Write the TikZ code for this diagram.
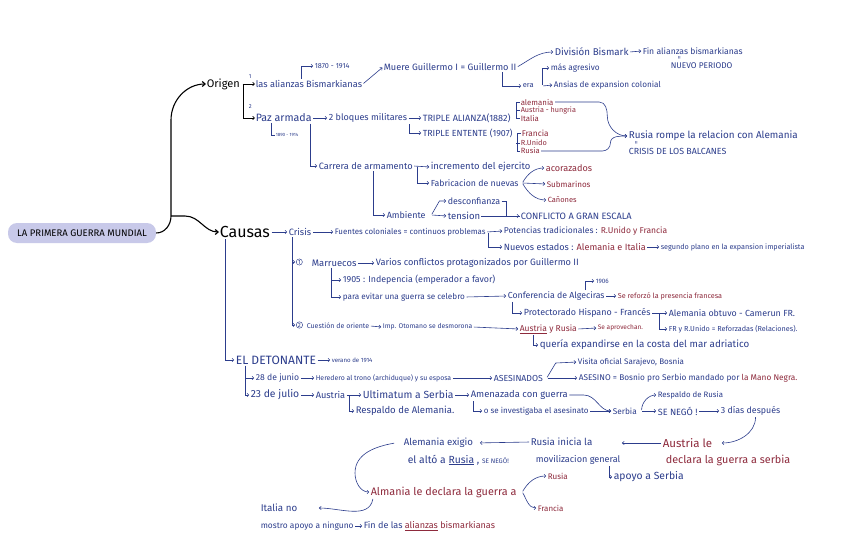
\documentclass[tikz,border=0pt]{standalone}
\usepackage{fontspec}
\setmainfont{Fira Sans}
\usetikzlibrary{arrows.meta}
\definecolor{Ink}{HTML}{2C3D8C}
\definecolor{Wine}{HTML}{8E2A3C}
\definecolor{Lav}{HTML}{C8C9E9}
\tikzset{
  fs/.style={font=\fontsize{\fpeval{1.15*#1}}{\fpeval{1.15*#1}}\selectfont},
  fsx/.style={font=\fontsize{#1}{#1}\selectfont},
  txt/.style={inner sep=0.6pt, anchor=west, text=Ink, fs=8},
  wine/.style={txt, text=Wine},
  big/.style={txt, text=black},
  wee/.style={txt, fs=5},
  eqv/.style={txt, anchor=center, rotate=90, fs=6},
  num/.style={circle, draw=Ink, text=Ink, line width=0.45pt, inner sep=0.5pt, anchor=west, fsx=6},
  root/.style={rounded corners=9pt, fill=Lav, text=black, minimum width=148pt, minimum height=20pt, fs=8.3},
  con/.style={draw=Ink, line width=0.6pt, -{Straight Barb[length=1.8pt,width=3.4pt]}, shorten >=0.8pt, shorten <=0.8pt},
  ln/.style={draw=Ink, line width=0.6pt},
  trunk/.style={draw=black, line width=1.1pt, -{Straight Barb[length=3pt,width=5pt]}},
  blk/.style={draw=black, line width=0.7pt, -{Straight Barb[length=1.8pt,width=3.4pt]}}
}
\begin{document}
\begin{tikzpicture}[x=1pt,y=1pt]
\useasboundingbox (0,0) rectangle (848,-559);
\fill[white] (0,0) rectangle (848,-559);
\node[root] (pmg) at (82,-233) {LA PRIMERA GUERRA MUNDIAL};
\coordinate (J) at (171,-216);
\node[big, fsx=11] (origen) at (206,-84) {Origen};
\node[big, fsx=16] (causas) at (219,-232) {Causas};
\draw[trunk] (pmg.east) to[out=0,in=-90] (J) -- ++(0,96) to[out=90,in=180] (origen.west);
\draw[trunk] (J) -- ++(14,0) to[out=0,in=180] (causas.west);
\node[wee] (n1) at (248,-77) {1};
\node[txt] (alianzas) at (255,-84) {las alianzas Bismarkianas};
\node[wee] (n2) at (248,-107) {2};
\node[txt, fs=9.25] (paz) at (255,-118) {Paz armada};
\draw[blk] ([xshift=2pt]origen.east) -- (alianzas.west);
\draw[blk] ([xshift=3pt]origen.east) |- (paz.west);
\node[txt, fs=6.3] (p1870) at (314,-66) {1870 - 1914};
\node[txt] (guillermo) at (383,-67) {Muere Guillermo I = Guillermo II};
\node[txt, fs=8.5] (division) at (554,-52) {División Bismark};
\node[txt, fs=7.5] (finali) at (642,-51) {Fin alianzas bismarkianas};
\node[eqv] (eq1) at (680,-58) {=};
\node[txt, fs=7.2] (nuevo) at (670,-66) {NUEVO PERIODO};
\node[txt, fs=6.5] (era) at (522,-86) {era};
\node[txt, fs=7.2] (agresivo) at (550,-68) {más agresivo};
\node[txt, fs=7.1] (ansias) at (553,-85) {Ansias de expansion colonial};
\draw[con] ([xshift=-8pt]alianzas.north) |- (p1870.west);
\draw[con] (alianzas.east) -- (guillermo.west);
\draw[con] (guillermo.east) to[out=30,in=180] (division.west);
\draw[con] (division.east) -- (finali.west);
\draw[con] ([xshift=-15pt]guillermo.south east) |- (era.west);
\draw[con] ([xshift=8pt]era.east) |- (agresivo.west);
\draw[con] ([xshift=8pt]era.east) -- (ansias.west);
\node[txt, fs=4] (p1890) at (275,-135) {1890 - 1914};
\node[txt, fs=7.85] (bloques) at (328,-118) {2 bloques militares};
\node[txt, fs=7.9] (alianza) at (422,-118) {TRIPLE ALIANZA(1882)};
\node[txt, fs=7.7] (entente) at (422,-133) {TRIPLE ENTENTE (1907)};
\node[wine, fs=6.8] (alemania1) at (520,-102) {alemania};
\node[wine, fs=6.3] (austria1) at (520,-110) {Austria - hungria};
\node[wine, fs=6.8] (italia1) at (520,-118) {Italia};
\node[wine, fs=7.2] (francia1) at (521,-133) {Francia};
\node[wine, fs=6.4] (runido1) at (520,-143) {R.Unido};
\node[wine, fs=6.6] (rusia1) at (520,-151) {Rusia};
\node[txt, fs=8.6] (rompe) at (628,-136) {Rusia rompe la relacion con Alemania};
\node[eqv] (eq2) at (637,-143) {=};
\node[txt, fs=7.7] (balcanes) at (628,-151) {CRISIS DE LOS BALCANES};
\draw[ln] ([xshift=16pt]paz.south west) |- (p1890.west);
\draw[con] (paz.east) -- (bloques.west);
\draw[con] (bloques.east) -- (alianza.west);
\draw[con] ([xshift=1pt]bloques.south east) |- (entente.west);
\draw[ln] (alemania1.west) -- ++(-4,0) |- (italia1.west);
\draw[ln] (austria1.west) -- ++(-4,0);
\draw[ln] (francia1.west) -- ++(-4,0) |- (rusia1.west);
\draw[ln] (runido1.west) -- ++(-4,0);
\draw[con] (alemania1.east) -- ++(45,0) to[out=0,in=90] ++(8,-14) to[out=-90,in=180] (rompe.west);
\draw[con] (rusia1.east) -- ++(62,0) to[out=0,in=-90] ++(8,8) to[out=90,in=180] (rompe.west);
\node[txt, fs=8] (carrera) at (318,-166) {Carrera de armamento};
\node[txt, fs=8.2] (incremento) at (430,-167) {incremento del ejercito};
\node[txt, fs=7.6] (fabricacion) at (430,-183) {Fabricacion de nuevas};
\node[wine, fs=7.9] (acorazados) at (545,-168) {acorazados};
\node[wine, fs=7] (submarinos) at (546,-184) {Submarinos};
\node[wine, fs=6.5] (canones) at (547,-200) {Cañones};
\node[txt, fs=7.8] (ambiente) at (386,-215) {Ambiente};
\node[txt, fs=7.7] (desconfianza) at (447,-201) {desconfianza};
\node[txt, fs=8.3] (tension) at (447,-216) {tension};
\node[txt, fs=8] (conflicto) at (520,-216) {CONFLICTO A GRAN ESCALA};
\draw[con] ([xshift=-2pt]paz.south east) |- (carrera.west);
\draw[con] (carrera.east) -- (incremento.west);
\draw[con] ([xshift=4pt]carrera.east) |- (fabricacion.west);
\draw[con] ([xshift=3pt]fabricacion.east) to[out=60,in=180] (acorazados.west);
\draw[con] ([xshift=3pt]fabricacion.east) -- (submarinos.west);
\draw[con] ([xshift=3pt]fabricacion.east) to[out=-60,in=180] (canones.west);
\draw[con] ([xshift=-40pt]carrera.south east) |- (ambiente.west);
\draw[con] ([xshift=5pt]ambiente.east) -- ++(8,14) -- (desconfianza.west);
\draw[con] ([xshift=5pt]ambiente.east) -- (tension.west);
\draw[con] (desconfianza.east) -- ++(5,0) |- (conflicto.west);
\draw[ln] (tension.east) -- (tension.east -| conflicto.west);
\node[txt, fs=8] (crisis) at (288,-232) {Crisis};
\node[txt, fs=6.9] (fuentes) at (334,-232) {Fuentes coloniales = continuos problemas};
\node[txt, fs=7.4] (potencias) at (503,-231) {Potencias tradicionales : \textcolor{Wine}{R.Unido y Francia}};
\node[txt, fs=7.9] (nuevos) at (503,-247) {Nuevos estados : \textcolor{Wine}{Alemania e Italia}};
\node[txt, fs=6.3] (segundo) at (660,-247) {segundo plano en la expansion imperialista};
\draw[con] (causas.east) -- (crisis.west);
\draw[con] (crisis.east) -- (fuentes.west);
\draw[con] (fuentes.east) -- (potencias.west);
\draw[con] ([xshift=2pt]fuentes.east) |- (nuevos.west);
\draw[con] (nuevos.east) -- (segundo.west);
\node[num] (c1) at (296,-262) {1};
\node[txt, fs=8.2] (marruecos) at (311,-263) {Marruecos};
\node[txt] (varios) at (375,-263) {Varios conflictos protagonizados por Guillermo II};
\node[txt, fs=7.7] (indep) at (342,-280) {1905 : Indepencia (emperador a favor)};
\node[txt, fs=7.1] (evitar) at (342,-297) {para evitar una guerra se celebro};
\node[txt, fs=7.6] (conferencia) at (507,-296) {Conferencia de Algeciras};
\node[txt, fs=5.5] (y1906) at (595,-281) {1906};
\node[wine, fs=6.3] (reforzo) at (617,-296) {Se reforzó la presencia francesa};
\node[txt, fs=7.75] (protectorado) at (523,-313) {Protectorado Hispano - Francés};
\node[txt, fs=7.7] (camerun) at (668,-313) {Alemania obtuvo - Camerun FR.};
\node[txt, fs=6.3] (fruk) at (668,-329) {FR y R.Unido = Reforzadas (Relaciones).};
\draw[con] ([xshift=4pt]crisis.south west) |- (c1.west);
\draw[con] (marruecos.east) -- (varios.west);
\draw[con] ([xshift=20pt]marruecos.south west) |- (indep.west);
\draw[con] ([xshift=20pt]marruecos.south west) |- (evitar.west);
\draw[con] (evitar.east) -- (conferencia.west);
\draw[con] ([xshift=-20pt]conferencia.north east) |- (y1906.west);
\draw[con] (conferencia.east) -- (reforzo.west);
\draw[con] ([xshift=5pt]conferencia.south west) |- (protectorado.west);
\draw[con] (protectorado.east) -- (camerun.west);
\draw[con] ([xshift=8pt]protectorado.east) |- (fruk.west);
\node[num] (c2) at (296,-325) {2};
\node[txt, fs=6.1] (cuestion) at (306,-326) {Cuestión de oriente};
\node[txt, fs=5.9] (otomano) at (382,-327) {Imp. Otomano se desmorona};
\node[wine, fs=7.4] (austriarusia) at (519,-329) {\underline{Austria} y Rusia};
\node[wine, fs=5.7] (aprovechan) at (597,-328) {Se aprovechan.};
\node[txt, fs=8.5] (queria) at (539,-345) {quería expandirse en la costa del mar adriatico};
\draw[con] ([xshift=4pt]crisis.south west) |- (c2.west);
\draw[con] (cuestion.east) -- (otomano.west);
\draw[con] (otomano.east) -- (austriarusia.west);
\draw[con] (austriarusia.east) -- (aprovechan.west);
\draw[con] ([xshift=14pt]austriarusia.south west) |- (queria.west);
\node[txt, fs=10.5] (detonante) at (235,-360) {EL DETONANTE};
\node[txt, fs=5.3] (verano) at (331,-360) {verano de 1914};
\node[txt, fs=7.5] (junio) at (255,-378) {28 de junio};
\node[txt, fs=6] (heredero) at (315,-378) {Heredero al trono (archiduque) y su esposa};
\node[txt, fs=7.6] (asesinados) at (493,-378) {ASESINADOS};
\node[txt, fs=7] (visita) at (577,-362) {Visita oficial Sarajevo, Bosnia};
\node[txt, fs=7.2] (asesino) at (578,-378) {ASESINO = Bosnio pro Serbio mandado por \textcolor{Wine}{la Mano Negra.}};
\draw[con] ([xshift=6pt]causas.south west) |- (detonante.west);
\draw[con] (detonante.east) -- (verano.west);
\draw[con] ([xshift=10pt]detonante.south west) |- (junio.west);
\draw[con] (junio.east) -- (heredero.west);
\draw[con] (heredero.east) -- (asesinados.west);
\draw[con] ([xshift=3pt]asesinados.east) -- ++(9,15) -- (visita.west);
\draw[con] ([xshift=3pt]asesinados.east) -- (asesino.west);
\node[txt, fs=9] (julio) at (250,-395) {23 de julio};
\node[txt] (austria2) at (315,-395) {Austria};
\node[txt, fs=9] (ultimatum) at (362,-395) {Ultimatum a Serbia};
\node[txt, fs=8.3] (respaldoA) at (355,-411) {Respaldo de Alemania.};
\node[txt, fs=8.2] (amenazada) at (470,-395) {Amenazada con guerra};
\node[txt, fs=7] (investigaba) at (483,-411) {o se investigaba el asesinato};
\node[txt, fs=7.2] (serbia) at (612,-411) {Serbia};
\node[txt, fs=6.8] (respaldoR) at (657,-395) {Respaldo de Rusia};
\node[txt, fs=7.9] (senego) at (657,-411) {SE NEGÓ !};
\node[txt, fs=7.7] (tresdias) at (720,-411) {3 días después};
\draw[con] ([xshift=10pt]detonante.south west) |- (julio.west);
\draw[con] (julio.east) -- (austria2.west);
\draw[con] (austria2.east) -- (ultimatum.west);
\draw[con] ([xshift=3pt]austria2.east) |- (respaldoA.west);
\draw[con] (ultimatum.east) -- (amenazada.west);
\draw[con] ([xshift=3pt]amenazada.south west) |- (investigaba.west);
\draw[con] (amenazada.east) -- ++(15,0) to[out=0,in=180] (serbia.west);
\draw[con] (investigaba.east) -- (serbia.west);
\draw[con] ([xshift=4pt]serbia.east) to[out=90,in=180] (respaldoR.west);
\draw[con] ([xshift=4pt]serbia.east) -- (senego.west);
\draw[con] (senego.east) -- (tresdias.west);
\node[wine, fs=10] (austriale) at (662,-443) {Austria le};
\node[wine, fs=9.4] (declara) at (665,-460) {declara la guerra a serbia};
\node[txt, fs=8.5] (rusiainicia) at (530,-442) {Rusia inicia la};
\node[txt, fs=7.9] (movilizacion) at (535,-460) {movilizacion general};
\node[txt, fs=9] (apoyo) at (613,-477) {apoyo a Serbia};
\node[txt, fs=8.4] (exigio) at (403,-443) {Alemania exigio};
\node[txt, fs=9] (alto) at (407,-460) {el altó a \underline{Rusia} , {\fontsize{6.5}{6.5}\selectfont SE NEGÓ!}};
\node[wine, fs=9.4] (almania) at (370,-492) {Almania le declara la guerra a};
\node[wine, fs=7] (rusia2) at (547,-476) {Rusia};
\node[wine, fs=6.9] (francia2) at (537,-508) {Francia};
\node[txt, fs=8.5] (italiano) at (260,-508) {Italia no};
\node[txt, fs=7.3] (mostro) at (260,-526) {mostro apoyo a ninguno};
\node[txt, fs=7.85] (fin) at (363,-526) {Fin de las \textcolor{Wine}{\underline{alianzas} bismarkianas}};
\draw[con] ([xshift=5pt]tresdias.south) to[out=-90,in=0] ([xshift=8pt]austriale.east);
\draw[con] (austriale.west) -- (austriale.west -| movilizacion.east);
\draw[con] ([xshift=-12pt]movilizacion.south east) |- (apoyo.west);
\draw[con, shorten >=6pt] (rusiainicia.west) -- (exigio.east);
\draw[con] ([xshift=-8pt]exigio.west) to[out=190,in=90] ++(-40,-30) to[out=-90,in=180] (almania.west);
\draw[con] ([xshift=5pt]almania.east) to[out=60,in=180] (rusia2.west);
\draw[con] ([xshift=5pt]almania.east) to[out=-60,in=180] (francia2.west);
\draw[con] ([xshift=3pt]almania.south west) to[out=-100,in=0] ([xshift=20pt]italiano.east);
\draw[con] (mostro.east) -- (fin.west);
\end{tikzpicture}
\end{document}
